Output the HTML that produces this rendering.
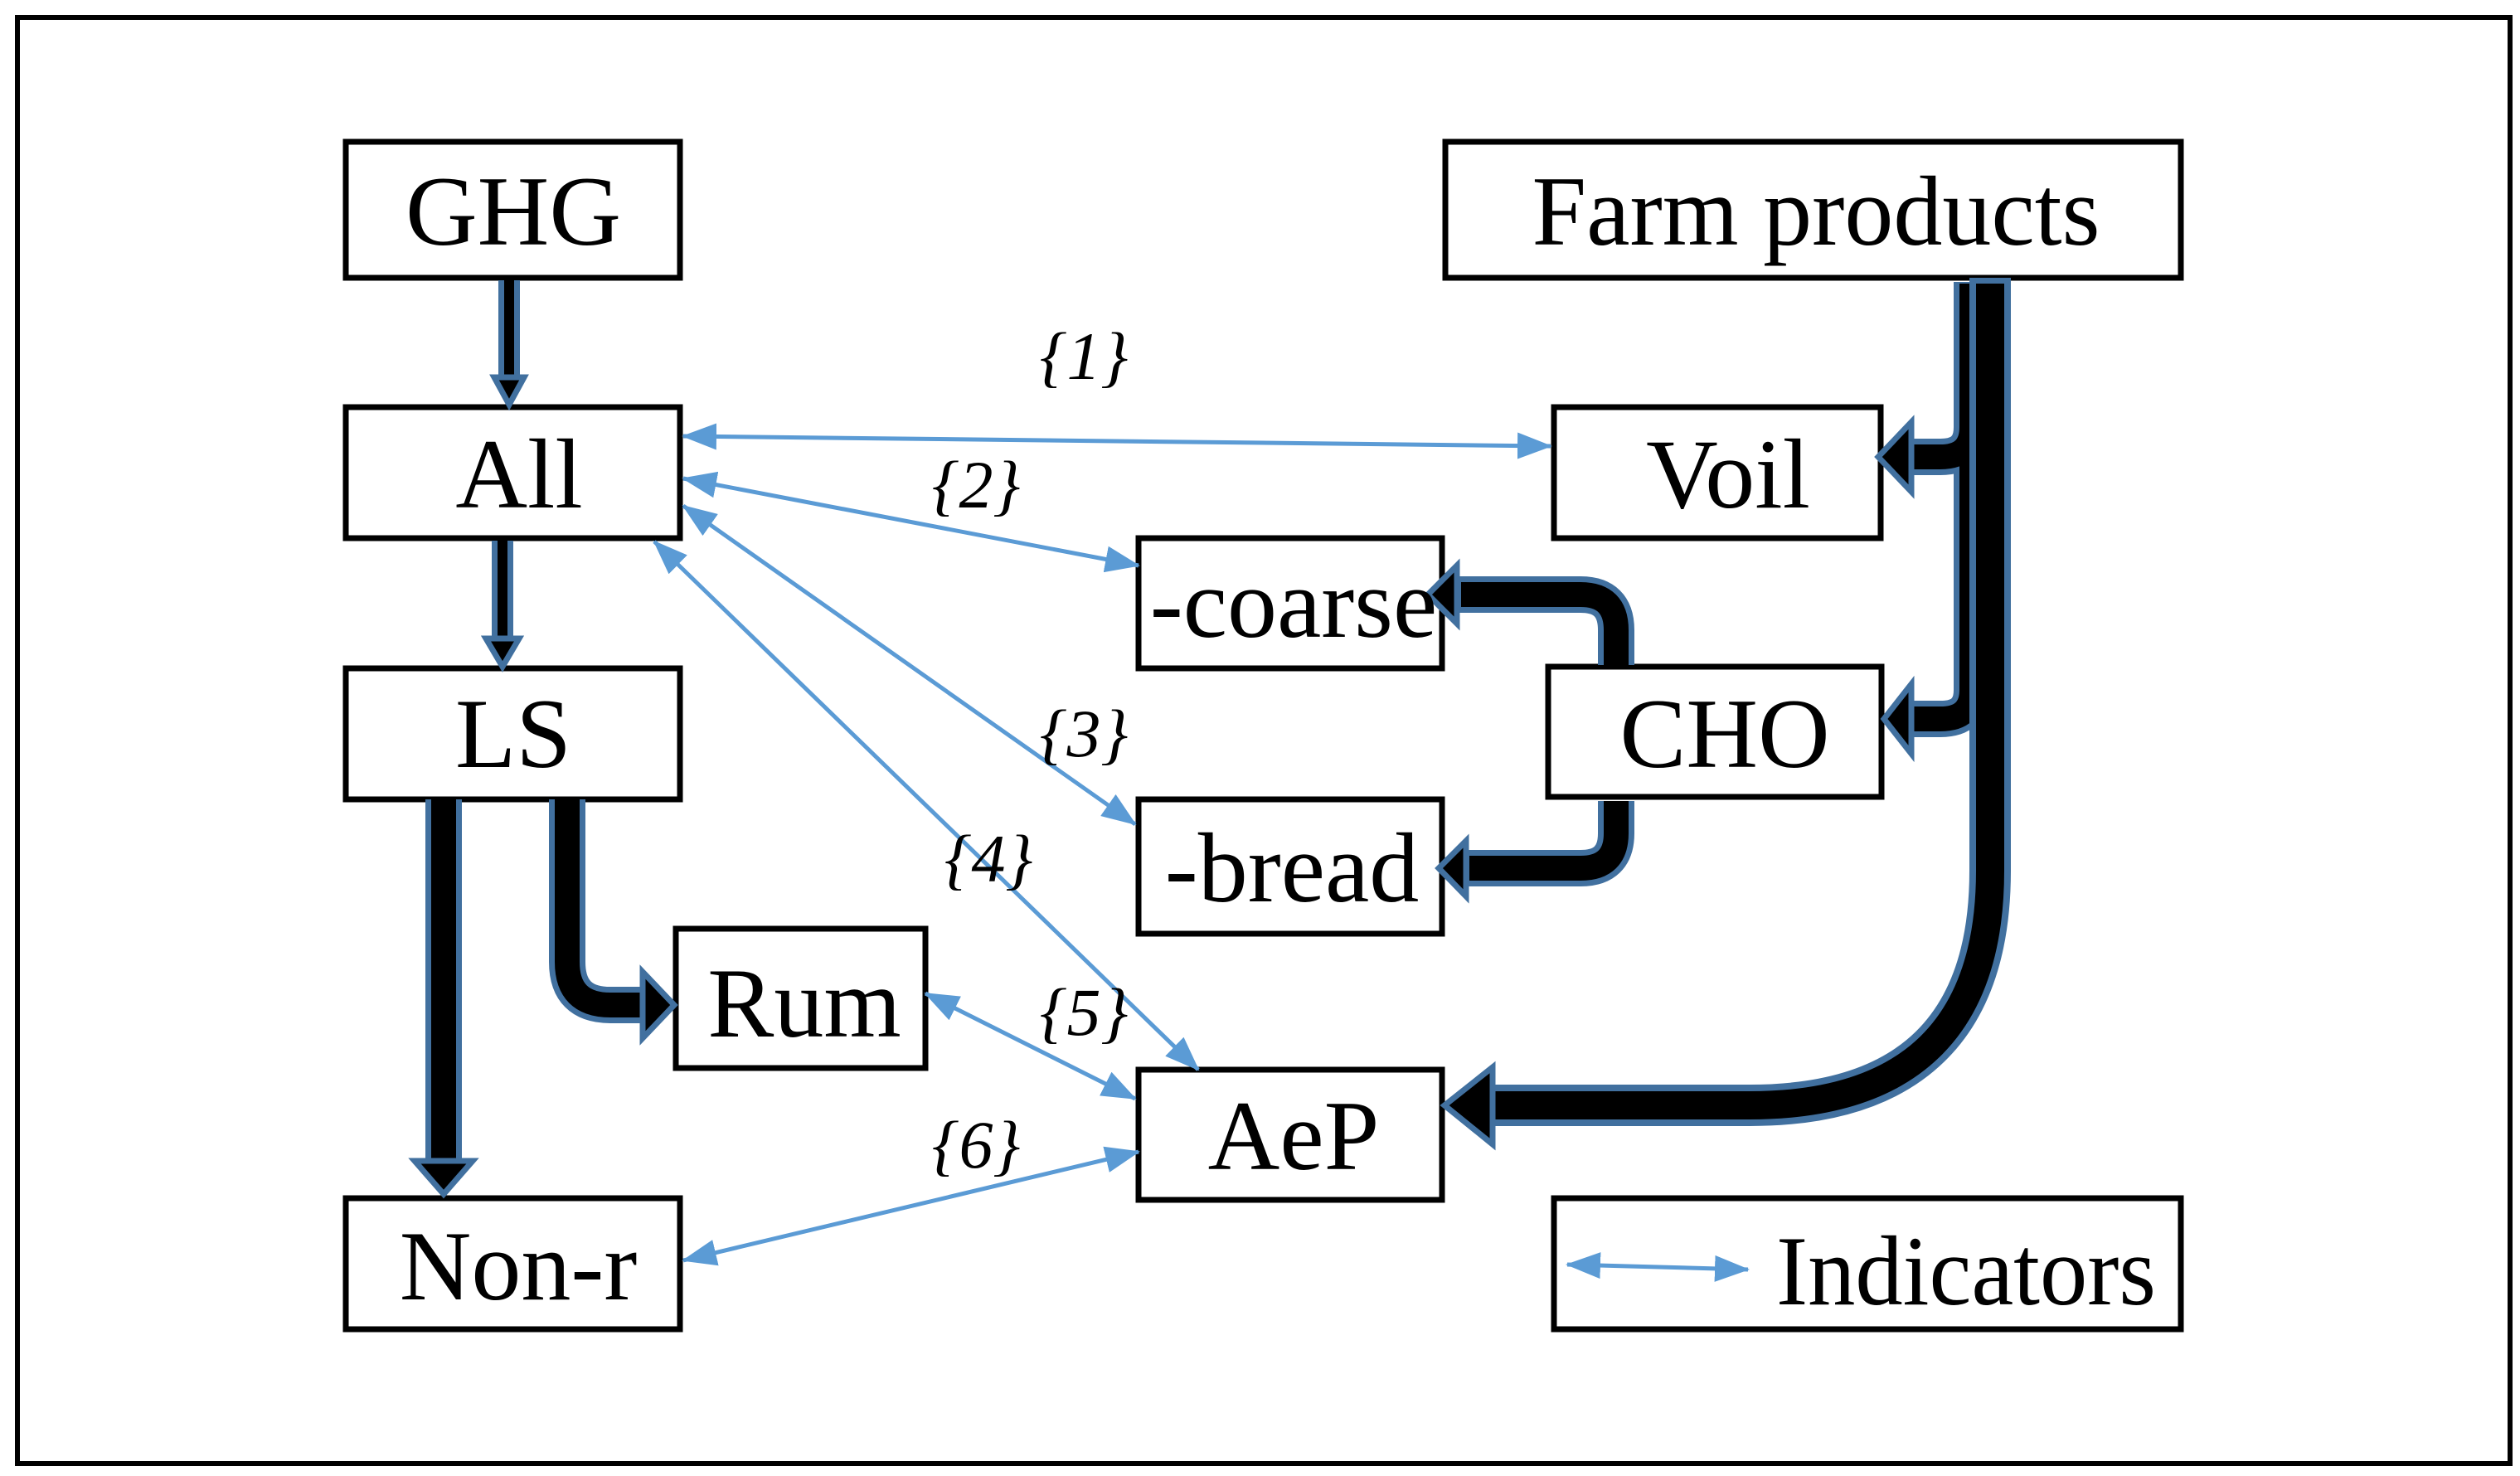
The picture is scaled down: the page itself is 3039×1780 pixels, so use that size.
<!DOCTYPE html>
<html><head><meta charset="utf-8"><style>
html,body{margin:0;padding:0;background:#fff}
svg{display:block}
text{font-family:"Liberation Serif",serif;fill:#000}
</style></head><body>
<svg width="3039" height="1780" viewBox="0 0 3039 1780" xmlns="http://www.w3.org/2000/svg">
<defs>
<marker id="ah" viewBox="0 0 42 32" refX="40" refY="16" markerWidth="42" markerHeight="32" markerUnits="userSpaceOnUse" orient="auto-start-reverse">
<path d="M0,0 L42,16 L0,32 Z" fill="#5B9BD5"/>
</marker>
</defs>
<rect x="21" y="21" width="3006" height="1744" fill="none" stroke="#000" stroke-width="6"/>

<g fill="#fff" stroke="#000" stroke-width="7">
<rect x="417" y="171" width="403" height="164"/>
<rect x="1743" y="171" width="887" height="164"/>
<rect x="417" y="491" width="403" height="158"/>
<rect x="1874" y="491" width="394" height="158"/>
<rect x="1373" y="649" width="366" height="157"/>
<rect x="1867" y="804" width="402" height="157"/>
<rect x="417" y="806" width="403" height="158"/>
<rect x="1373" y="964" width="366" height="162"/>
<rect x="815" y="1120" width="301" height="168"/>
<rect x="1373" y="1290" width="366" height="157"/>
<rect x="417" y="1445" width="403" height="158"/>
<rect x="1874" y="1445" width="756" height="158"/>
</g>

<g fill="none" stroke-linejoin="round">
<g stroke="#41709F" stroke-width="26">
<path d="M614,338 L614,455"/>
<path d="M606,652 L606,770"/>
</g>
<g stroke="#000" stroke-width="12">
<path d="M614,338 L614,455"/>
<path d="M606,652 L606,770"/>
</g>
<g stroke="#41709F" stroke-width="44">
<path d="M535,964 L535,1400"/>
<path d="M684,964 L684,1160 Q684,1212 736,1212 L775,1212"/>
<path d="M1949,802 L1949,760 Q1949,717 1906,717 L1760,717"/>
<path d="M1949,966 L1949,1005 Q1949,1047 1906,1047 L1770,1047"/>
<path d="M2378,340 L2378,515 Q2378,551 2340,551 L2305,551"/>
<path d="M2378,340 L2378,832 Q2378,867 2340,867 L2305,867"/>
</g>
<g stroke="#000" stroke-width="30">
<path d="M535,964 L535,1400"/>
<path d="M684,964 L684,1160 Q684,1212 736,1212 L778,1212"/>
<path d="M1949,802 L1949,760 Q1949,717 1906,717 L1762,717"/>
<path d="M1949,966 L1949,1005 Q1949,1047 1906,1047 L1772,1047"/>
<path d="M2378,342 L2378,515 Q2378,551 2340,551 L2308,551"/>
<path d="M2378,342 L2378,832 Q2378,867 2340,867 L2308,867"/>
</g>
<g stroke="#41709F" stroke-width="50">
<path d="M2400,335 L2400,1050 Q2400,1333 2110,1333 L1800,1333"/>
</g>
<g stroke="#000" stroke-width="34">
<path d="M2400,342 L2400,1050 Q2400,1333 2110,1333 L1802,1333"/>
</g>
</g>
<g fill="#000" stroke="#41709F" stroke-width="7" stroke-linejoin="miter">
<path d="M596,455 L632,455 L614,488 Z"/>
<path d="M586,770 L626,770 L606,804 Z"/>
<path d="M500,1400 L570,1400 L535,1440 Z"/>
<path d="M775,1172 L775,1252 L813,1212 Z"/>
<path d="M1757,682 L1757,752 L1722,717 Z"/>
<path d="M1768,1014 L1768,1081 L1735,1047 Z"/>
<path d="M1800,1287 L1800,1380 L1742,1333 Z"/>
<path d="M2305,509 L2305,593 L2265,551 Z"/>
<path d="M2305,825 L2305,909 L2272,867 Z"/>
</g>

<g stroke="#5B9BD5" stroke-width="5" fill="none" marker-start="url(#ah)" marker-end="url(#ah)">
<line x1="824" y1="526" x2="1870" y2="538"/>
<line x1="824" y1="577" x2="1373" y2="682"/>
<line x1="824" y1="610" x2="1369" y2="994"/>
<line x1="789" y1="653" x2="1445" y2="1290"/>
<line x1="1116" y1="1198" x2="1369" y2="1325"/>
<line x1="824" y1="1520" x2="1373" y2="1389"/>
<line x1="1890" y1="1525" x2="2108" y2="1531"/>
</g>

<g font-size="120" text-anchor="middle">
<text x="619" y="295">GHG</text>
<text x="2190" y="295" textLength="685" lengthAdjust="spacingAndGlyphs">Farm products</text>
<text x="626" y="612">All</text>
<text x="2084" y="612">Voil</text>
<text x="1560" y="768">-coarse</text>
<text x="2080" y="925">CHO</text>
<text x="619" y="925">LS</text>
<text x="1558" y="1087">-bread</text>
<text x="970" y="1250">Rum</text>
<text x="1560" y="1410">AeP</text>
<text x="625" y="1567">Non-r</text>
<text x="2371" y="1573" textLength="458" lengthAdjust="spacingAndGlyphs">Indicators</text>
</g>
<g font-size="82" font-style="italic" text-anchor="middle">
<text x="1307" y="457">{1}</text>
<text x="1177" y="612">{2}</text>
<text x="1307" y="912">{3}</text>
<text x="1192" y="1063">{4}</text>
<text x="1307" y="1248">{5}</text>
<text x="1177" y="1408">{6}</text>
</g>
</svg>
</body></html>
